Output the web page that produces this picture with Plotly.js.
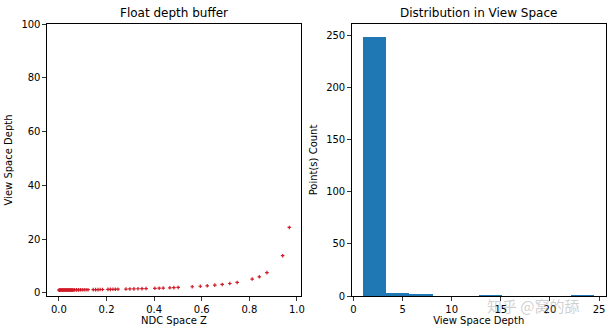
<!DOCTYPE html>
<html>
<head>
<meta charset="utf-8">
<script src="https://cdn.plot.ly/plotly-3.0.1.min.js"></script>
<style>html,body{margin:0;padding:0;background:#fff;}#chart{width:610px;height:334px;}</style>
</head>
<body>
<div id="chart"></div>
<script>
// Left panel: NDC depth vs view-space depth
const ndcZ = [
  0.000,0.0025,0.005,0.0075,0.010,0.0125,0.015,0.0175,0.020,0.0225,0.025,0.0275,0.030,
  0.0325,0.035,0.0375,0.040,0.0425,0.045,0.0475,0.050,0.0525,0.055,0.0575,0.060,
  0.066,0.074,0.082,0.090,0.098,0.106,0.114,0.122,
  0.144,0.154,0.164,0.173,0.183,
  0.206,0.216,0.227,0.237,0.248,
  0.2815,0.298,0.315,0.332,0.349,0.366,
  0.403,0.421,0.438,
  0.466,0.483,0.501,
  0.560,0.594,0.623,0.655,0.686,0.718,0.749,
  0.812,0.842,0.874,0.940,0.968
];
const viewDepth = [
  1.00,1.00,1.00,1.01,1.01,1.01,1.02,1.02,1.02,1.02,1.03,1.03,1.03,
  1.03,1.04,1.04,1.04,1.04,1.05,1.05,1.05,1.05,1.06,1.06,1.06,
  1.07,1.08,1.09,1.10,1.11,1.12,1.13,1.14,
  1.17,1.18,1.19,1.21,1.22,
  1.26,1.27,1.29,1.31,1.33,
  1.39,1.42,1.45,1.49,1.53,1.57,
  1.66,1.71,1.76,
  1.85,1.91,1.98,
  2.24,2.42,2.60,2.84,3.10,3.45,3.85,
  5.10,5.95,7.50,13.8,24.3
];

// Right panel: histogram of view-space depth (10 bins)
const binLeft = [1.0,3.35,5.7,8.05,10.4,12.75,15.1,17.45,19.8,22.15];
const binWidth = 2.35;
const binCount = [249,3,2,0,0,1,0,0,0,1];

const binCenter = binLeft.map(v => v + binWidth/2);

const FONT = 'DejaVu Sans, sans-serif';
const axBase = {
  showline:true, mirror:true, linecolor:'#000', linewidth:1,
  ticks:'outside', ticklen:3.5, tickwidth:0.8, tickcolor:'#000',
  showgrid:false, zeroline:false,
  tickfont:{family:FONT, size:10, color:'#000'},
  title:{font:{family:FONT, size:10, color:'#000'}}
};

const traces = [
  {
    type:'scatter', mode:'markers', x:ndcZ, y:viewDepth,
    xaxis:'x', yaxis:'y',
    marker:{symbol:'cross', size:3, color:'#d01c28', line:{width:0}},
    hoverinfo:'skip'
  },
  {
    type:'bar', x:binCenter, y:binCount, width:binWidth,
    xaxis:'x2', yaxis:'y2',
    marker:{color:'#1f77b4', line:{width:0}},
    hoverinfo:'skip'
  }
];

const layout = {
  width:610, height:334,
  margin:{l:0, r:0, t:24, b:38},
  paper_bgcolor:'#fff', plot_bgcolor:'#fff',
  showlegend:false,
  bargap:0,
  xaxis: Object.assign({}, axBase, {
    domain:[0.0770, 0.4934], range:[-0.0504, 1.017],
    tickvals:[0,0.2,0.4,0.6,0.8,1.0], ticktext:['0.0','0.2','0.4','0.6','0.8','1.0'],
    title:{text:'NDC Space Z', standoff:3, font:{family:FONT, size:10, color:'#000'}}
  }),
  yaxis: Object.assign({}, axBase, {
    domain:[0,1], range:[-1.2, 100],
    tickvals:[0,20,40,60,80,100],
    title:{text:'View Space Depth', standoff:6, font:{family:FONT, size:10, color:'#000'}}
  }),
  xaxis2: Object.assign({}, axBase, {
    domain:[0.5766, 0.9930], range:[-0.175, 25.675], anchor:'y2',
    tickvals:[0,5,10,15,20,25],
    title:{text:'View Space Depth', standoff:3, font:{family:FONT, size:10, color:'#000'}}
  }),
  yaxis2: Object.assign({}, axBase, {
    domain:[0,1], range:[0, 261.45], anchor:'x2',
    tickvals:[0,50,100,150,200,250],
    title:{text:'Point(s) Count', standoff:6, font:{family:FONT, size:10, color:'#000'}}
  }),
  annotations:[
    {text:'Float depth buffer', xref:'paper', yref:'paper', x:0.2852, y:1, yshift:11,
     showarrow:false, xanchor:'center', yanchor:'middle', font:{family:FONT, size:12, color:'#000'}},
    {text:'Distribution in View Space', xref:'paper', yref:'paper', x:0.7848, y:1, yshift:11,
     showarrow:false, xanchor:'center', yanchor:'middle', font:{family:FONT, size:12, color:'#000'}},
    {text:'知乎 @窝的舔', xref:'paper', yref:'paper', x:0.8750, y:0, yshift:-9,
     showarrow:false, xanchor:'center', yanchor:'middle',
     font:{family:'Noto Sans CJK SC, sans-serif', size:15, color:'rgba(150,150,150,0.45)'}}
  ]
};

Plotly.newPlot('chart', traces, layout, {staticPlot:true, displayModeBar:false});
</script>
</body>
</html>
